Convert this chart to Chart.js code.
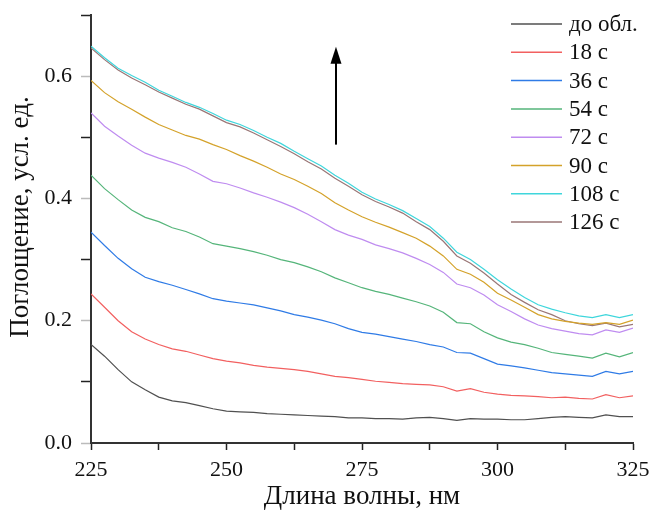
<!DOCTYPE html>
<html>
<head>
<meta charset="utf-8">
<script src="https://cdn.jsdelivr.net/npm/chart.js@4.4.1/dist/chart.umd.min.js"></script>
<style>
html,body{margin:0;padding:0;background:#fff;}
#wrap{width:653px;height:511px;position:relative;}
</style>
</head>
<body>
<div id="wrap"><canvas id="c" width="653" height="511"></canvas></div>
<script>
const wavelengths = [225,227.5,230,232.5,235,237.5,240,242.5,245,247.5,250,252.5,255,257.5,260,262.5,265,267.5,270,272.5,275,277.5,280,282.5,285,287.5,290,292.5,295,297.5,300,302.5,305,307.5,310,312.5,315,317.5,320,322.5,325];

const seriesLabels = ['до обл.','18 с','36 с','54 с','72 с','90 с','108 с','126 с'];
const seriesColors = ['#505050','#f26060','#2f7be6','#55b57a','#bf8cf0','#d4a22a','#3fd6dc','#9a7676'];

const s0 = [0.161,0.142,0.120,0.100,0.087,0.075,0.069,0.066,0.061,0.056,0.052,0.051,0.050,0.048,0.047,0.046,0.045,0.044,0.043,0.041,0.041,0.040,0.040,0.039,0.041,0.042,0.040,0.037,0.040,0.039,0.039,0.038,0.038,0.040,0.042,0.043,0.042,0.041,0.046,0.043,0.043];
const s18 = [0.244,0.222,0.200,0.182,0.170,0.161,0.154,0.150,0.144,0.138,0.134,0.131,0.127,0.124,0.122,0.120,0.117,0.113,0.109,0.107,0.104,0.101,0.099,0.097,0.096,0.095,0.092,0.085,0.089,0.083,0.080,0.078,0.077,0.076,0.074,0.075,0.073,0.072,0.079,0.074,0.077];
const s36 = [0.345,0.323,0.302,0.285,0.271,0.264,0.258,0.251,0.244,0.236,0.232,0.229,0.226,0.221,0.216,0.210,0.206,0.201,0.195,0.187,0.181,0.178,0.174,0.170,0.166,0.161,0.157,0.148,0.147,0.138,0.129,0.126,0.123,0.119,0.115,0.113,0.111,0.109,0.117,0.113,0.117];
const s54 = [0.438,0.416,0.398,0.381,0.369,0.362,0.352,0.346,0.337,0.326,0.322,0.318,0.313,0.307,0.300,0.295,0.288,0.280,0.270,0.262,0.254,0.248,0.243,0.237,0.231,0.224,0.214,0.197,0.195,0.182,0.172,0.165,0.161,0.155,0.148,0.145,0.142,0.139,0.147,0.141,0.148];
const s72 = [0.540,0.518,0.502,0.487,0.474,0.466,0.459,0.451,0.440,0.428,0.424,0.417,0.409,0.402,0.394,0.385,0.374,0.362,0.349,0.340,0.333,0.324,0.318,0.311,0.302,0.292,0.279,0.260,0.254,0.242,0.226,0.215,0.203,0.193,0.187,0.183,0.179,0.177,0.185,0.181,0.188];
const s90 = [0.593,0.573,0.558,0.546,0.533,0.521,0.512,0.503,0.497,0.488,0.480,0.470,0.461,0.451,0.440,0.431,0.420,0.408,0.393,0.381,0.370,0.361,0.353,0.344,0.335,0.322,0.306,0.284,0.276,0.263,0.245,0.234,0.222,0.210,0.203,0.199,0.196,0.194,0.197,0.194,0.201];
const s108 = [0.649,0.630,0.613,0.601,0.590,0.577,0.567,0.557,0.549,0.539,0.528,0.521,0.511,0.500,0.490,0.477,0.465,0.453,0.438,0.425,0.410,0.399,0.390,0.380,0.367,0.354,0.335,0.312,0.300,0.284,0.267,0.252,0.238,0.226,0.219,0.213,0.208,0.205,0.210,0.205,0.210];
const s126 = [0.646,0.627,0.610,0.597,0.586,0.574,0.564,0.554,0.546,0.535,0.524,0.517,0.507,0.496,0.485,0.473,0.460,0.448,0.433,0.420,0.406,0.395,0.386,0.376,0.362,0.349,0.330,0.306,0.294,0.278,0.260,0.243,0.230,0.218,0.210,0.200,0.195,0.192,0.196,0.190,0.194];

const yTickLabels = [0.0,0.2,0.4,0.6];
const xTickLabels = [225,250,275,300,325];
const xTitle = 'Длина волны, нм';
const yTitle = 'Поглощение, усл. ед.';
const arrowX = 270.2, arrowY0 = 0.488, arrowY1 = 0.648;

const allSeries = [s0,s18,s36,s54,s72,s90,s108,s126];
const serif = "'Liberation Serif','Times New Roman',serif";

const datasets = allSeries.map((s,i)=>({
  label: seriesLabels[i],
  data: wavelengths.map((w,j)=>({x:w,y:s[j]})),
  borderColor: seriesColors[i],
  borderWidth: 1.2,
  pointRadius: 0,
  tension: 0,
  fill: false
}));

const arrowPlugin = {
  id:'arrow',
  afterDatasetsDraw(chart){
    const {ctx, scales:{x,y}} = chart;
    const px = x.getPixelForValue(arrowX);
    const yb = y.getPixelForValue(arrowY0);
    const yt = y.getPixelForValue(arrowY1);
    ctx.save();
    ctx.strokeStyle='#000'; ctx.fillStyle='#000'; ctx.lineWidth=2;
    ctx.beginPath(); ctx.moveTo(px,yb); ctx.lineTo(px,yt+12); ctx.stroke();
    ctx.beginPath(); ctx.moveTo(px,yt); ctx.lineTo(px-5.5,yt+17); ctx.lineTo(px+5.5,yt+17); ctx.closePath(); ctx.fill();
    ctx.restore();
  }
};

const textPlugin = {
  id:'texts',
  afterDraw(chart){
    const ctx = chart.ctx;
    const ca = chart.chartArea;
    ctx.save();
    ctx.font = "23px " + serif;
    ctx.textBaseline='middle';
    ctx.textAlign='left';
    chart.data.datasets.forEach((ds,i)=>{
      const yy = 24 + i*28.3;
      ctx.strokeStyle = ds.borderColor; ctx.lineWidth = 1.5;
      ctx.beginPath(); ctx.moveTo(511,yy); ctx.lineTo(562,yy); ctx.stroke();
      ctx.fillStyle='#111';
      ctx.fillText(ds.label, 569, yy+1);
    });
    ctx.font = "27px " + serif;
    ctx.fillStyle='#111';
    ctx.textAlign='center';
    ctx.textBaseline='middle';
    ctx.fillText(xTitle, (ca.left+ca.right)/2, 497);
    ctx.translate(21, 217);
    ctx.rotate(-Math.PI/2);
    ctx.fillText(yTitle, 0, 0);
    ctx.restore();
  }
};

new Chart(document.getElementById('c'), {
  type:'line',
  data:{ datasets },
  options:{
    responsive:false,
    animation:false,
    layout:{padding:0},
    plugins:{legend:{display:false},tooltip:{enabled:false}},
    scales:{
      x:{
        type:'linear', min:225, max:325,
        afterFit(s){ s.height = 68; s.paddingLeft = 0; s.paddingRight = 20; },
        border:{color:'#333',width:2},
        grid:{drawOnChartArea:false, tickLength:7, tickColor:'#222', tickWidth:1.5},
        ticks:{stepSize:12.5, autoSkip:false, maxRotation:0, padding:7, color:'#111',
          font:{family:serif,size:22},
          callback:(v)=> xTickLabels.includes(v) ? String(v) : ''}
      },
      y:{
        type:'linear', min:0, max:0.7,
        afterFit(s){ s.width = 91; s.paddingTop = 15; s.paddingBottom = 0; },
        border:{color:'#333',width:2},
        grid:{drawOnChartArea:false, tickLength:10,
          tickColor:(c)=> yTickLabels.some(t=>Math.abs(t-c.tick.value)<1e-6) ? '#bbbbbb' : '#222', tickWidth:1.5},
        ticks:{stepSize:0.1, autoSkip:false, padding:9, color:'#111',
          font:{family:serif,size:22},
          callback:(v)=> yTickLabels.some(t=>Math.abs(t-v)<1e-6) ? v.toFixed(1) : ''}
      }
    }
  },
  plugins:[arrowPlugin, textPlugin]
});
</script>
</body>
</html>
